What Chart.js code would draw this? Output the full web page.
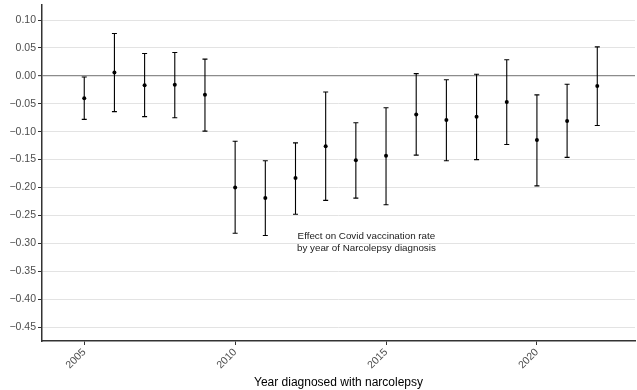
<!DOCTYPE html>
<html>
<head>
<meta charset="utf-8">
<script src="https://cdn.jsdelivr.net/npm/chart.js@4"></script>
<style>
  html, body { margin: 0; padding: 0; background: #ffffff; }
  #wrap { width: 637px; height: 390px; position: relative; }
</style>
</head>
<body>
<div id="wrap"><canvas id="c" width="637" height="390"></canvas></div>
<script>
const years    = [2005, 2006, 2007, 2008, 2009, 2010, 2011, 2012, 2013, 2014, 2015, 2016, 2017, 2018, 2019, 2020, 2021, 2022];
const estimate = [-0.040, 0.006, -0.017, -0.016, -0.034, -0.200, -0.219, -0.183, -0.126, -0.151, -0.143, -0.069, -0.079, -0.073, -0.047, -0.115, -0.081, -0.018];
const lower    = [-0.078, -0.064, -0.073, -0.075, -0.099, -0.282, -0.286, -0.248, -0.223, -0.219, -0.231, -0.142, -0.152, -0.150, -0.123, -0.197, -0.146, -0.089];
const upper    = [-0.002, 0.076, 0.040, 0.042, 0.030, -0.117, -0.152, -0.120, -0.029, -0.084, -0.057, 0.004, -0.007, 0.003, 0.029, -0.034, -0.015, 0.052];
const yTicks   = [0.10, 0.05, 0.00, -0.05, -0.10, -0.15, -0.20, -0.25, -0.30, -0.35, -0.40, -0.45];
const xTicks   = [2005, 2010, 2015, 2020];
const annotationLines = ["Effect on Covid vaccination rate", "by year of Narcolepsy diagnosis"];
const annotationX = 2014.35;
const annotationY = -0.298;
const xTitle = "Year diagnosed with narcolepsy";

const errorBars = {
  id: 'errorBars',
  beforeDatasetsDraw(chart) {
    const ctx = chart.ctx;
    const xs = chart.scales.x, ys = chart.scales.y;
    ctx.save();
    ctx.strokeStyle = '#000000';
    ctx.lineWidth = 1.1;
    for (let i = 0; i < years.length; i++) {
      const px = xs.getPixelForValue(years[i]);
      const pl = ys.getPixelForValue(lower[i]);
      const pu = ys.getPixelForValue(upper[i]);
      ctx.beginPath();
      ctx.moveTo(px, pl); ctx.lineTo(px, pu);
      ctx.moveTo(px - 2.5, pl); ctx.lineTo(px + 2.5, pl);
      ctx.moveTo(px - 2.5, pu); ctx.lineTo(px + 2.5, pu);
      ctx.stroke();
    }
    ctx.restore();
  },
  afterDatasetsDraw(chart) {
    const ctx = chart.ctx;
    const xs = chart.scales.x, ys = chart.scales.y;
    const cx = xs.getPixelForValue(annotationX);
    const cy = ys.getPixelForValue(annotationY);
    ctx.save();
    ctx.fillStyle = '#1a1a1a';
    ctx.font = '9.8px "Liberation Sans", Arial, sans-serif';
    ctx.textAlign = 'center';
    ctx.textBaseline = 'middle';
    const lh = 12;
    const n = annotationLines.length;
    annotationLines.forEach((t, k) => {
      ctx.fillText(t, cx, cy + (k - (n - 1) / 2) * lh);
    });
    ctx.restore();
  }
};

new Chart(document.getElementById('c'), {
  type: 'scatter',
  data: {
    datasets: [{
      data: years.map((y, i) => ({ x: y, y: estimate[i] })),
      backgroundColor: '#000000',
      borderColor: '#000000',
      pointRadius: 2,
      pointHoverRadius: 2,
      borderWidth: 0
    }]
  },
  options: {
    responsive: false,
    animation: false,
    events: [],
    layout: { padding: { top: 5, right: 0, left: 0, bottom: 0 } },
    plugins: { legend: { display: false }, tooltip: { enabled: false } },
    scales: {
      x: {
        type: 'linear',
        min: 2003.6,
        max: 2023.25,
        afterBuildTicks(scale) { scale.ticks = xTicks.map(v => ({ value: v })); },
        afterFit(scale) { scale.height = 49; scale.paddingLeft = 0; scale.paddingRight = 0; },
        ticks: {
          autoSkip: false,
          maxRotation: 45,
          minRotation: 45,
          color: '#4d4d4d',
          font: { family: '"Liberation Sans", Arial, sans-serif', size: 10.5 },
          padding: 1,
          callback: v => String(v)
        },
        grid: {
          drawOnChartArea: false,
          drawTicks: true,
          tickLength: 4,
          tickColor: '#333333',
          tickWidth: 1
        },
        border: { display: true, color: '#333333', width: 1.5 },
        title: {
          display: true,
          text: xTitle,
          color: '#000000',
          font: { family: '"Liberation Sans", Arial, sans-serif', size: 12 },
          padding: { top: 0, bottom: 0 }
        }
      },
      y: {
        type: 'linear',
        min: -0.475,
        max: 0.127,
        afterBuildTicks(scale) { scale.ticks = yTicks.map(v => ({ value: v })); },
        afterFit(scale) { scale.width = 42; scale.paddingTop = 0; scale.paddingBottom = 0; },
        ticks: {
          color: '#4d4d4d',
          font: { family: '"Liberation Sans", Arial, sans-serif', size: 10.5 },
          padding: 2,
          callback: v => v.toFixed(2).replace('-', '\u2212')
        },
        grid: {
          color: ctx => (ctx.tick && Math.abs(ctx.tick.value) < 1e-9) ? '#8c8c8c' : '#e3e3e3',
          lineWidth: ctx => (ctx.tick && Math.abs(ctx.tick.value) < 1e-9) ? 1.3 : 1,
          drawTicks: true,
          tickLength: 4,
          tickColor: '#333333',
          tickWidth: 1
        },
        border: { display: true, color: '#333333', width: 1.5 }
      }
    }
  },
  plugins: [errorBars]
});
</script>
</body>
</html>
